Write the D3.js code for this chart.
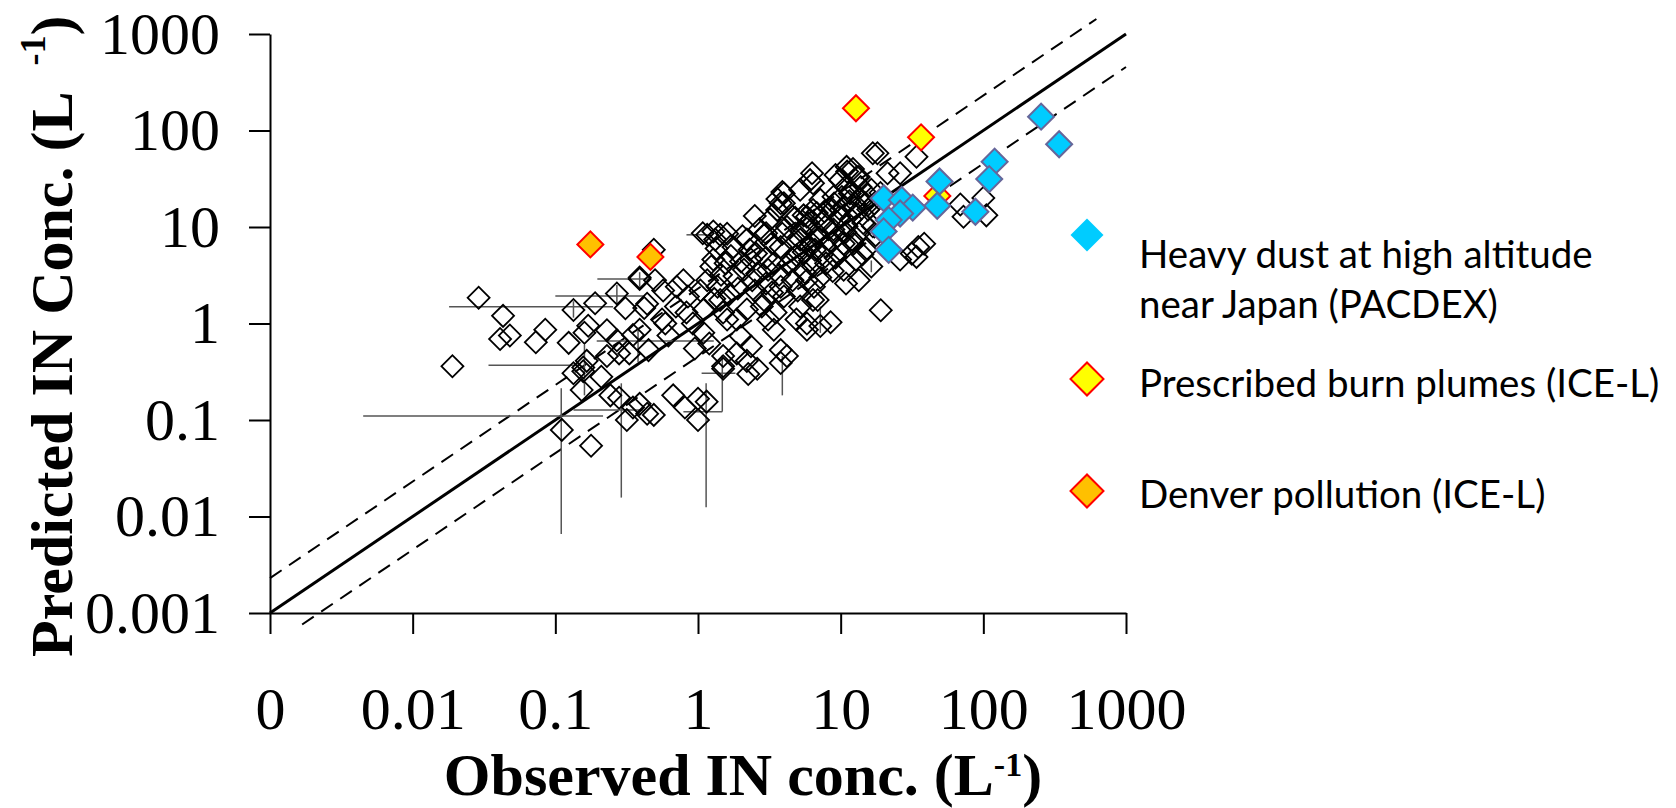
<!DOCTYPE html>
<html>
<head>
<meta charset="utf-8">
<script src="https://cdn.jsdelivr.net/npm/d3@7"></script>
<style>
  body { margin: 0; background: #fff; }
</style>
</head>
<body>
<div id="chart"></div>
<script>
// tick values and labels (the "0" label sits at 0.001 on the x axis)
var tickValues = [0.001, 0.01, 0.1, 1, 10, 100, 1000];
var xTickLabels = ["0", "0.01", "0.1", "1", "10", "100", "1000"];
var yTickLabels = ["0.001", "0.01", "0.1", "1", "10", "100", "1000"];

// reference lines [observed, predicted]
var oneToOne = [[0.001, 0.001], [1000, 1000]];
var upperBound = [[0.001, 0.0023], [620, 1430]];
var lowerBound = [[0.00168, 0.00076], [1000, 455]];

// all other cases: [observed, predicted]
var otherCases = [
  [0.019,0.36],[0.029,1.85],[0.043,1.2],[0.041,0.69],[0.048,0.75],[0.085,0.86],[0.073,0.64],
  [0.124,0.63],[0.134,1.38],[0.19,1.62],[0.27,2.05],[0.31,1.44],[0.39,2.9],[0.157,0.35],
  [0.153,0.205],[0.111,0.079],[0.178,0.054],[0.317,0.1],[0.243,0.18],[0.157,0.32],[0.134,0.305],
  [0.166,0.41],[0.21,0.28],[0.23,0.46],[0.28,0.49],[0.23,0.85],[0.35,0.76],[0.27,0.67],
  [0.39,0.86],[0.33,0.49],[0.28,0.17],[0.35,0.135],[0.44,0.116],[0.45,0.53],[0.17,0.95],
  [0.16,0.8],[0.42,1.45],[0.49,0.113],[0.39,0.147],[0.67,0.18],[0.81,0.135],[1.0,0.166],
  [1.15,0.155],[1.0,0.1],[1.5,0.34],[2.25,0.3],[2.6,0.34],[3.8,0.39],
  [3.99,22.3],[3.8,17.6],[6.1,30.6],[5.5,13.2],[1.16,8.3],[1.43,8.3],[1.32,7.4],[2.2,7.4],
  [2.9,8.3],[2.55,5.3],[3.8,6.2],[5.2,7.4],[5.8,9.6],[6.6,5.8],[6.4,3.9],[4.6,4.6],[3.4,4.2],
  [2.1,3.6],[1.56,4.2],[1.28,4.6],[1.16,2.8],[1.37,2.4],[1.04,2.2],[0.79,2.8],[0.71,2.4],
  [0.57,2.2],[0.5,2.8],[0.49,5.8],[0.39,3.0],[0.44,1.6],[0.59,1.0],[0.56,1.1],[0.83,1.3],
  [0.92,1.0],[1.09,0.8],[1.43,1.75],[1.5,1.3],[1.87,1.1],[1.99,0.74],[2.35,0.58],[1.87,0.49],
  [1.5,0.46],[1.5,0.36],[2.2,0.41],[2.9,1.75],[3.1,1.1],[3.4,0.86],[3.8,0.53],[4.2,0.46],
  [4.9,1.1],[5.8,0.86],[6.4,1.75],[3.8,2.4],[2.4,2.8],[4.6,2.8],[5.8,2.8],[1.77,6.2],
  [2.35,4.6],[3.1,3.6],[1.24,3.9],
  [6.3,36],[9.2,34.5],[11.1,37.5],[13.4,33],[12.2,40],[18.1,58],[34,53.5],[21.3,36],[26.1,36],
  [16.4,24.3],[13.8,26],[11.6,22.3],[8.9,20.6],[7.2,19.1],[5.8,12.8],[7.7,14.5],[10.5,16.2],
  [12.9,13.8],[14.9,17.6],[14.4,11.0],[11.0,10.2],[8.9,9.4],[6.8,8.7],[6.1,6.2],[7.9,6.2],
  [9.9,5.8],[12.3,6.7],[15,5.8],[12.8,4.6],[10.5,3.6],[7.9,4.2],[16.4,3.9],[26.1,4.6],
  [31.5,5.3],[35,6.2],[38.5,6.7],[34,4.9],[9.9,30.6],[6.4,28.4],[5.2,24.3],[69,17.1],
  [72.6,12.8],[100,20],[105,13.2],[19.1,1.37],[8.5,1.03],[6.9,1.75],[5.8,1.0],[10.9,2.6],
  [13.4,2.8],[7.2,0.94],
  [3.9,23],[4.0,17.6],[3.6,15],[4.6,12.8],[3.0,8.6],[1.6,8.5],[1.28,9.0],[1.08,8.6],
  [16.8,58],[6.4,15],[11,42],[13.0,33],
  [3.2,12],[3.6,15],[4.2,10],[4.8,12.5],[5.3,9],[4.5,7.5],[3.9,8.5],[5.9,11],[6.8,14],
  [7.5,11.5],[8.2,9.5],[7.0,7.8],[6.2,6.9],[5.5,5.5],[4.9,5.1],[4.3,4.1],[3.7,3.2],[3.0,2.6],
  [2.6,3.3],[2.3,5.8],[2.0,4.4],[1.8,3.1],[1.65,2.0],[2.8,1.5],[3.3,2.1],[4.0,1.9],[5.0,2.2],
  [5.6,3.4],[6.1,4.5],[7.4,5.2],[8.6,6.9],[9.5,8.0],[10.8,8.8],[11.8,12.0],[9.8,12.8],
  [8.3,15.5],[9.0,17.5],[10.2,20.5],[11.5,18.5],[12.5,15.8],[13.8,19.5],[15.6,15.2],
  [16.8,10.2],[17.6,8.2],[13.4,8.6],[12.0,7.4],[10.5,6.7],[14.2,5.2],[18.5,13.0],[17.2,17.5],
  [15.5,21.5],[19.0,22.5],[11.2,25.5],[10.0,15.0],[7.2,3.0],[8.8,3.5],[9.2,4.8],[6.5,2.4],
  [5.2,1.5],[3.5,1.3],[2.5,2.2],[2.2,1.4],[1.3,1.8],[1.1,1.4],[1.6,1.1],[1.2,0.62],
  [0.95,0.55],[0.62,0.75],[0.7,1.5],[0.85,1.9],[1.45,3.2],[1.9,2.3],[1.7,5.0],[2.05,8.0],
  [2.7,9.5],[3.3,6.8],[3.0,4.8],[1.35,6.0],[2.5,13],[3.6,19.5]
];

// highlighted cases
var pacdex = [
  [254,139],[340,72],[120,47.5],[110,31.4],[49.3,29.6],[47.5,16.6],[88,14.4],
  [20,19.9],[26.8,19.1],[32,15.9],[26.1,13.8],[21.7,11.8],[20,9.0],[21.7,5.8]
];
var burnPlumes = [[12.8,170],[36.6,85],[47.6,21]];
var denver = [[0.176,6.6],[0.464,4.9]];

// error bars: horizontal [predicted, obsLow, obsHigh], vertical [observed, predLow, predHigh]
var errX = [
  [1.49,0.018,0.254],[1.93,0.10,0.415],[2.9,0.197,0.46],[8.3,0.83,1.17],[0.66,0.195,1.29],
  [0.37,0.034,0.15],[0.11,0.0045,0.216],[0.127,0.134,0.41],[0.305,1.06,1.83],[0.122,0.79,1.48]
];
var errY = [
  [0.11,0.0066,0.213],[1.14,0.0125,0.24],[0.29,0.0157,0.24],[0.16,0.18,0.6],[0.38,0.4,0.9],
  [1.48,0.122,0.47],[3.9,0.18,0.46],[7.2,0.8,1.5],[0.134,1.15,1.7],[0.27,1.6,2.5],
  [0.39,2.4,3.4],[16.4,3.4,4.5],[7.7,12.5,16.5]
];

var legendLabels = [
  ["Heavy dust at high altitude", "near Japan (PACDEX)"],
  ["Prescribed burn plumes (ICE-L)"],
  ["Denver pollution (ICE-L)"]
];

var W = 1676, H = 808;
var svg = d3.select("#chart").append("svg")
    .attr("width", W)
    .attr("height", H)
    .style("background", "#fff");

var x = d3.scaleLog().domain([0.001, 1000]).range([270, 1126]);
var y = d3.scaleLog().domain([0.001, 1000]).range([613, 34]);

var serif = "'Liberation Serif', 'Times New Roman', serif";
var sans = "Lato, 'Open Sans', sans-serif";

// x axis
var xAxis = svg.append("g")
    .attr("transform", "translate(0," + y(0.001) + ")")
    .call(d3.axisBottom(x)
      .tickValues(tickValues)
      .tickFormat(function(d, i) { return xTickLabels[i]; })
      .tickSize(21)
      .tickSizeOuter(0)
      .tickPadding(52));
xAxis.selectAll("text").attr("font-family", serif).attr("font-size", 60).attr("fill", "#000");

// y axis
var yAxis = svg.append("g")
    .attr("transform", "translate(" + x(0.001) + ",0)")
    .call(d3.axisLeft(y)
      .tickValues(tickValues)
      .tickFormat(function(d, i) { return yTickLabels[i]; })
      .tickSize(21)
      .tickSizeOuter(0)
      .tickPadding(29));
yAxis.selectAll("text").attr("font-family", serif).attr("font-size", 60).attr("fill", "#000");

svg.selectAll(".domain, .tick line").attr("stroke", "#000").attr("stroke-width", 2);

// axis titles
var xTitle = svg.append("text")
    .attr("x", 743)
    .attr("y", 795)
    .attr("text-anchor", "middle")
    .attr("font-family", serif)
    .attr("font-weight", "bold")
    .attr("font-size", 60)
    .text("Observed IN conc. (L");
xTitle.append("tspan").attr("font-size", 34).attr("dy", -19).text("-1");
xTitle.append("tspan").attr("dy", 19).text(")");

var yTitle = svg.append("text")
    .attr("transform", "translate(72,657) rotate(-90)")
    .attr("text-anchor", "start")
    .attr("font-family", serif)
    .attr("font-weight", "bold")
    .attr("font-size", 60)
    .text("Predicted IN Conc. (L");
yTitle.append("tspan").attr("font-size", 36).attr("dx", 26).attr("dy", -27).text("-1");
yTitle.append("tspan").attr("dy", 27).text(")");

// reference lines
var line = d3.line()
    .x(function(d) { return x(d[0]); })
    .y(function(d) { return y(d[1]); });

svg.append("path").datum(oneToOne)
    .attr("d", line).attr("fill", "none")
    .attr("stroke", "#000").attr("stroke-width", 3);
[upperBound, lowerBound].forEach(function(b) {
  svg.append("path").datum(b)
      .attr("d", line).attr("fill", "none")
      .attr("stroke", "#000").attr("stroke-width", 2)
      .attr("stroke-dasharray", "14,9");
});

// error bars
svg.append("g").selectAll("line")
    .data(errX)
  .enter().append("line")
    .attr("x1", function(d) { return x(d[1]); })
    .attr("x2", function(d) { return x(d[2]); })
    .attr("y1", function(d) { return y(d[0]); })
    .attr("y2", function(d) { return y(d[0]); })
    .attr("stroke", "#555").attr("stroke-width", 1.5);
svg.append("g").selectAll("line")
    .data(errY)
  .enter().append("line")
    .attr("x1", function(d) { return x(d[0]); })
    .attr("x2", function(d) { return x(d[0]); })
    .attr("y1", function(d) { return y(d[1]); })
    .attr("y2", function(d) { return y(d[2]); })
    .attr("stroke", "#555").attr("stroke-width", 1.5);

// diamonds (a square turned by 45 degrees)
function diamond(diag) {
  return d3.symbol().type(d3.symbolSquare).size(diag * diag / 2)();
}

function drawSeries(data, diag, fill, stroke, sw) {
  svg.append("g").selectAll("path")
      .data(data)
    .enter().append("path")
      .attr("d", diamond(diag))
      .attr("transform", function(d) {
        return "translate(" + x(d[0]) + "," + y(d[1]) + ") rotate(45)";
      })
      .attr("fill", fill)
      .attr("stroke", stroke)
      .attr("stroke-width", sw);
}

drawSeries(otherCases, 22, "none", "#000", 1.8);
drawSeries(denver, 26, "#ffc000", "#ff0000", 2);
drawSeries(burnPlumes, 26, "#ffff00", "#ff0000", 2);
drawSeries(pacdex, 26, "#00ccff", "#66669a", 2);

// legend
var legendStyles = [
  {fill: "#00ccff", stroke: "none", cy: 235, lines: [268, 318]},
  {fill: "#ffff00", stroke: "#ff0000", cy: 379, lines: [397]},
  {fill: "#ffc000", stroke: "#ff0000", cy: 491, lines: [508]}
];
legendStyles.forEach(function(s, i) {
  svg.append("path")
      .attr("d", diamond(33))
      .attr("transform", "translate(1087," + s.cy + ") rotate(45)")
      .attr("fill", s.fill)
      .attr("stroke", s.stroke)
      .attr("stroke-width", 2);
  legendLabels[i].forEach(function(t, j) {
    svg.append("text")
        .attr("x", 1139)
        .attr("y", s.lines[j])
        .attr("font-family", sans)
        .attr("font-size", 38.5)
        .attr("fill", "#000")
        .text(t);
  });
});
</script>
</body>
</html>
